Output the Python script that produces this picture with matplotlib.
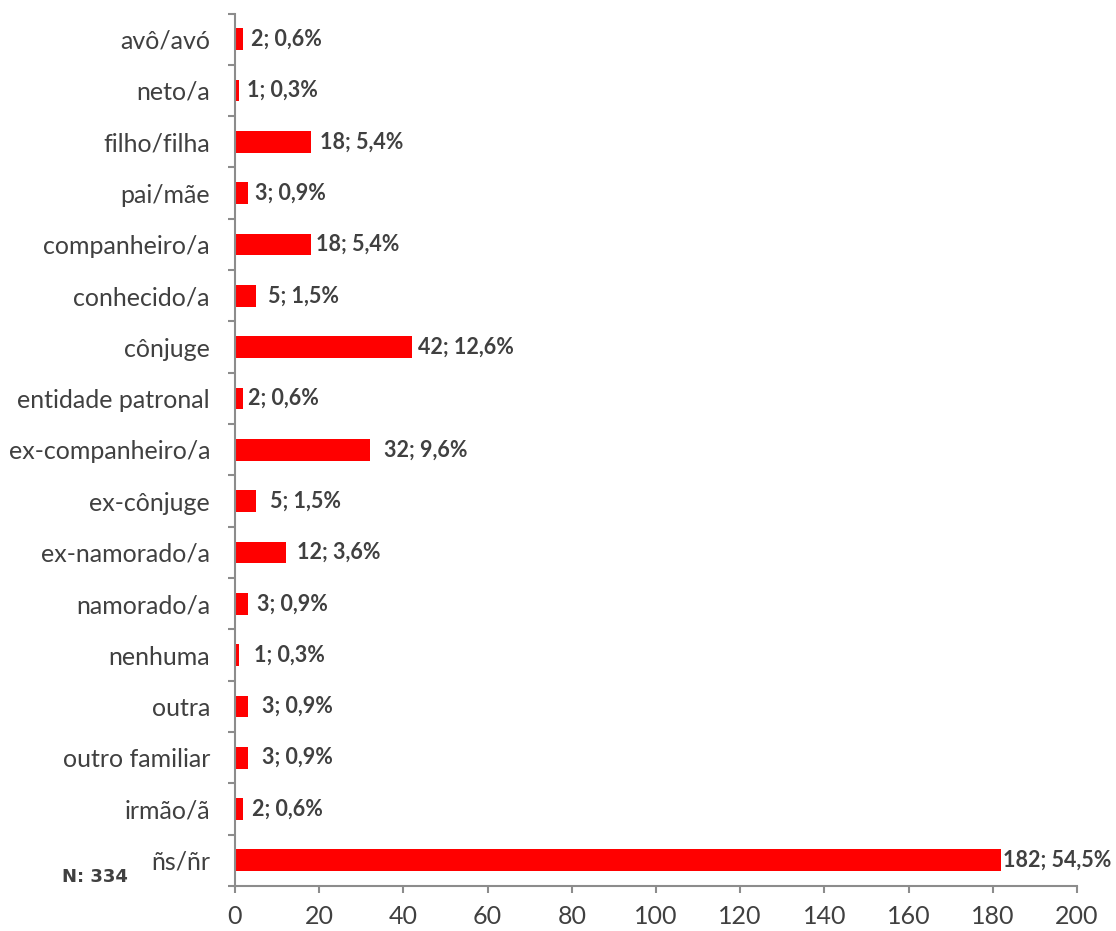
import matplotlib
matplotlib.use("Agg")
import matplotlib.pyplot as plt

categories = ["avô/avó", "neto/a", "filho/filha", "pai/mãe", "companheiro/a", "conhecido/a",
              "cônjuge", "entidade patronal", "ex-companheiro/a", "ex-cônjuge", "ex-namorado/a",
              "namorado/a", "nenhuma", "outra", "outro familiar", "irmão/ã", "ñs/ñr"]
counts = [2, 1, 18, 3, 18, 5, 42, 2, 32, 5, 12, 3, 1, 3, 3, 2, 182]
percents = ["0,6%", "0,3%", "5,4%", "0,9%", "5,4%", "1,5%", "12,6%", "0,6%", "9,6%", "1,5%",
            "3,6%", "0,9%", "0,3%", "0,9%", "0,9%", "0,6%", "54,5%"]
xticks = [0, 20, 40, 60, 80, 100, 120, 140, 160, 180, 200]

# gap (pixels) between bar end and its data label, as placed in the original
label_gaps = [8, 8, 9, 7, 5, 12, 6, 5, 14, 14, 11, 9, 15, 14, 14, 9, 2]

axis_c = "#8C8C8C"
text_c = "#404040"
font = "Lato"

fig = plt.figure(figsize=(11.16, 9.31), dpi=100)
ax = fig.add_axes([235 / 1116, 1 - 886 / 931, 842 / 1116, 872.5 / 931])
n = len(categories)
ypos = list(range(n - 1, -1, -1))
ax.barh(ypos, counts, height=0.423, color="#FF0000")
for y, c, p, g in zip(ypos, counts, percents, label_gaps):
    ax.annotate(f"{c}; {p}", (c, y), xytext=(g, 0), textcoords="offset pixels",
                ha="left", va="center", fontsize=15.5, fontweight="bold", color=text_c,
                family=font)
ax.set_xlim(0, 200)
ax.set_ylim(-0.5, n - 0.5)
ax.set_xticks(xticks)
ax.set_xticklabels([str(t) for t in xticks], fontsize=18, color=text_c, family=font)
ax.set_yticks(ypos)
ax.set_yticklabels(categories, fontsize=18, color=text_c, family=font)
ax.set_yticks([i - 0.5 for i in range(n + 1)], minor=True)
ax.tick_params(axis="y", which="major", length=0, pad=18)
ax.tick_params(axis="y", which="minor", length=5, color=axis_c, width=1.5)
ax.tick_params(axis="x", which="major", length=5, color=axis_c, width=1.5, pad=9)
for s in ["top", "right"]:
    ax.spines[s].set_visible(False)
for s in ["left", "bottom"]:
    ax.spines[s].set_color(axis_c)
    ax.spines[s].set_linewidth(1.5)
fig.text(62 / 1116, 1 - 882 / 931, "N: 334", fontsize=13, fontweight="bold", color=text_c,
         family="DejaVu Sans", va="baseline", ha="left")
fig.savefig("out.png", dpi=100)
